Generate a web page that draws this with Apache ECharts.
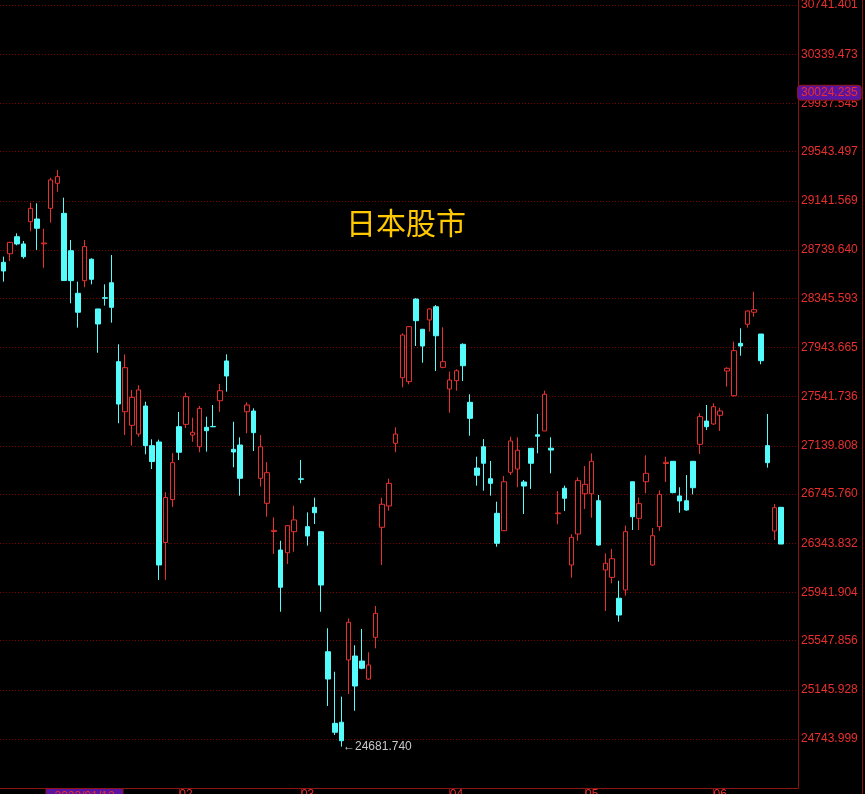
<!DOCTYPE html>
<html><head><meta charset="utf-8">
<script src="https://cdn.jsdelivr.net/npm/echarts@6/dist/echarts.min.js"></script>
<style>html,body{margin:0;padding:0;background:#000;}#chart{width:865px;height:794px;}</style>
</head><body><div id="chart"></div>
<script>
const titleText = '日本股市';
const dates = [
 '2021-12-22','2021-12-23','2021-12-24','2021-12-27','2021-12-28','2021-12-29','2021-12-30',
 '2022-01-04','2022-01-05','2022-01-06','2022-01-07','2022-01-11','2022-01-12','2022-01-13','2022-01-14','2022-01-17','2022-01-18','2022-01-19','2022-01-20','2022-01-21','2022-01-24','2022-01-25','2022-01-26','2022-01-27','2022-01-28','2022-01-31',
 '2022-02-01','2022-02-02','2022-02-03','2022-02-04','2022-02-07','2022-02-08','2022-02-09','2022-02-10','2022-02-14','2022-02-15','2022-02-16','2022-02-17','2022-02-18','2022-02-21','2022-02-22','2022-02-24','2022-02-25','2022-02-28',
 '2022-03-01','2022-03-02','2022-03-03','2022-03-04','2022-03-07','2022-03-08','2022-03-09','2022-03-10','2022-03-11','2022-03-14','2022-03-15','2022-03-16','2022-03-17','2022-03-18','2022-03-22','2022-03-23','2022-03-24','2022-03-25','2022-03-28','2022-03-29','2022-03-30','2022-03-31',
 '2022-04-01','2022-04-04','2022-04-05','2022-04-06','2022-04-07','2022-04-08','2022-04-11','2022-04-12','2022-04-13','2022-04-14','2022-04-15','2022-04-18','2022-04-19','2022-04-20','2022-04-21','2022-04-22','2022-04-25','2022-04-26','2022-04-27','2022-04-28',
 '2022-05-02','2022-05-06','2022-05-09','2022-05-10','2022-05-11','2022-05-12','2022-05-13','2022-05-16','2022-05-17','2022-05-18','2022-05-19','2022-05-20','2022-05-23','2022-05-24','2022-05-25','2022-05-26','2022-05-27','2022-05-30','2022-05-31',
 '2022-06-01','2022-06-02','2022-06-03','2022-06-06','2022-06-07','2022-06-08','2022-06-09','2022-06-10','2022-06-13','2022-06-14','2022-06-15'
];
const opens = [
 28639,28709,28848,28789,28971,28993,28790,
 29080,29285,29039,28734,28386,28489,28664,28258,28350,28472,27827,27418,27307,27236,27465,27141,27171,26350,26700,
 27296,27315,27228,27132,27291,27298,27508,27833,27111,27146,27418,27424,26874,26670,26440,26288,26266,26438,
 26870,26479,26637,26438,25457,24872,24881,25390,25422,25381,25234,25575,26474,26648,27160,27696,27664,28339,28092,28168,28276,27781,
 27604,27672,27969,27495,26958,27132,26871,26588,26446,26923,26950,26844,27119,27230,27261,27120,26585,26793,26166,26419,
 26748,26748,26691,26125,26065,25894,25962,26846,26547,26846,26166,26479,26995,27013,26730,26691,27013,27152,27342,
 27318,27389,27751,27549,27977,28133,28231,28053,27141,26444,26637
];
const closes = [
 28568,28802,28789,28685,29080,28917,28797,
 29312,29339,28490,28489,28231,28767,28500,28135,28345,28271,27481,27778,27536,27596,27141,27011,26166,26717,27002,
 27087,27541,27250,27446,27263,27295,27590,27710,27089,26874,27473,27247,27132,26920,26449,25984,26487,26534,
 26866,26403,26593,26002,25234,24799,24730,25698,25177,25322,25349,25771,26662,26833,27236,28045,28113,28162,27955,28258,28039,27827,
 27677,27753,27794,27364,26899,26997,26833,26343,26846,27179,27103,26811,26997,27218,27561,27105,26591,26711,26392,26855,
 26825,27013,26329,26180,26217,25757,26438,26560,26667,26915,26405,26743,27005,26757,26689,26615,26797,27378,27296,
 27459,27424,27773,27917,27955,28241,28252,27835,27002,26634,26337
];
const lows = [
 28481,28650,28778,28669,28892,28740,28595,
 28963,29216,28488,28304,28105,28435,28459,27900,28285,28146,27324,27228,27141,27214,27070,26950,26044,26044,26640,
 27024,27285,27173,27087,27092,27293,27418,27582,26964,26732,27242,27097,26806,26560,26256,25784,26174,26275,
 26833,26324,26501,25784,25014,24777,24681.74,25112,24975,25314,25226,25485,26166,26610,27087,27618,27642,27955,27819,28072,27751,27773,
 27410,27590,27669,27222,26814,26773,26732,26315,26446,26901,26801,26583,26787,27078,27261,26915,26498,26607,26062,26364,
 26623,26552,26324,25790,26016,25702,25915,26452,26452,26752,26160,26444,26844,26752,26593,26610,26743,27073,27269,
 27310,27261,27623,27541,27876,28105,28195,27806,26961,26370,26337
];
const highs = [
 28685,28806,28876,28813,29126,29121,28914,
 29330,29393,29167,28821,28481,28821,28672,28258,28459,28699,27969,27887,27596,27634,27500,27193,27190,26760,27080,
 27416,27574,27369,27465,27378,27473,27645,27887,27337,27209,27495,27446,27228,27007,26556,26364,26490,26650,
 27024,26596,26716,26440,25649,25294,25090,25730,25510,25643,25453,25831,26716,26871,27291,28059,28119,28345,28092,28263,28290,28108,
 27745,27765,27977,27561,27051,27195,27016,26683,26893,27214,27209,26860,27119,27400,27590,27209,26770,26814,26417,26882,
 26975,27078,26738,26261,26297,26037,26487,26846,26716,27062,26468,26776,27051,27013,26801,26901,27013,27405,27473,
 27487,27451,27781,27990,28100,28245,28399,28053,27400,26664,26640
];
const yTickValues = [30741.401,30339.473,29937.545,29543.497,29141.569,28739.640,28345.593,27943.665,27541.736,27139.808,26745.760,26343.832,25941.904,25547.856,25145.928,24743.999];
const emptySlots = ['',''];
const crossDate = '2022-01-12';
const crossValue = 30024.235;

const RED = '#e8302e', CYAN = '#54fcfc', AXIS = '#8c1414', CROSS_BG = '#5a14a0';
const crossIdx = dates.indexOf(crossDate);
const categories = dates.concat(emptySlots).map((d, i) => i === crossIdx
  ? {value: d, textStyle: {backgroundColor: CROSS_BG, borderColor: AXIS, borderWidth: 1, padding: [2, 8, 2, 8], align: 'center'}}
  : d);
const candleData = dates.map((d,i)=>[opens[i],closes[i],lows[i],highs[i]]);
const isMonthStart = (idx) => idx > 0 && idx < dates.length && dates[idx].slice(5,7) !== dates[idx-1].slice(5,7);
const labelShown = (idx) => idx === crossIdx || (isMonthStart(idx) && Math.abs(idx - crossIdx) > 6);

const chart = echarts.init(document.getElementById('chart'), null, {renderer:'canvas'});
chart.setOption({
  backgroundColor: '#000',
  animation: false,
  title: {
    text: titleText, left: 346, top: 208, padding: 0,
    textStyle: {color: '#ffc800', fontSize: 30, fontWeight: 'normal', fontFamily: 'Noto Sans CJK SC'}
  },
  grid: {left: 0, right: 67, top: 0, bottom: 6, containLabel: false, outerBoundsMode: 'none'},
  xAxis: {
    type: 'category', data: categories, boundaryGap: true,
    axisLine: {lineStyle: {color: AXIS}},
    axisTick: {show: true, interval: (i) => isMonthStart(i), alignWithLabel: true, length: 6, lineStyle: {color: AXIS}},
    axisLabel: {interval: (i) => labelShown(i),
      formatter: (v, i) => i === crossIdx ? v.replace(/-/g, '/') : v.slice(5,7),
      align: 'left', margin: 1, color: RED, fontSize: 12, fontFamily: 'Liberation Sans'},
    splitLine: {show: false}
  },
  yAxis: {
    type: 'value', position: 'right', scale: true, min: 24343.7, max: 30782.25,
    axisLine: {show: true, lineStyle: {color: AXIS}},
    axisTick: {show: false, customValues: yTickValues},
    axisLabel: {customValues: yTickValues, formatter: (v) => Number(v).toFixed(3), color: RED, fontSize: 12,
      fontFamily: 'Liberation Sans', margin: 3},
    splitLine: {show: true, lineStyle: {color: '#7a0000', type: [1,2], width: 1}},
    axisPointer: {show: true, value: crossValue, status: 'show', triggerTooltip: false, type: 'line',
      lineStyle: {color: 'rgba(0,0,0,0)', width: 0},
      label: {show: true, formatter: (p) => Number(p.value).toFixed(3), backgroundColor: CROSS_BG, borderColor: AXIS, borderWidth: 1,
        color: RED, fontSize: 12, fontFamily: 'Liberation Sans', padding: [1,3], margin: 0}}
  },
  graphic: [{type: 'line', shape: {x1: 862.5, y1: 0, x2: 862.5, y2: 794}, style: {stroke: AXIS, lineWidth: 1}, silent: true}],
  series: [{
    type: 'candlestick', data: candleData, barWidth: 5,
    itemStyle: {color: '#000', color0: CYAN, borderColor: RED, borderColor0: CYAN, borderWidth: 1},
    markPoint: {
      symbol: 'rect', symbolSize: [1,1], itemStyle: {color: 'rgba(0,0,0,0)'},
      data: [{type: 'min', valueDim: 'lowest'}],
      label: {show: true, position: 'right', distance: 1, formatter: (p) => '\u2190' + Number(p.value).toFixed(3),
        color: '#c8c8c8', fontSize: 12, fontFamily: 'Liberation Sans'}
    }
  }]
});
</script></body></html>
